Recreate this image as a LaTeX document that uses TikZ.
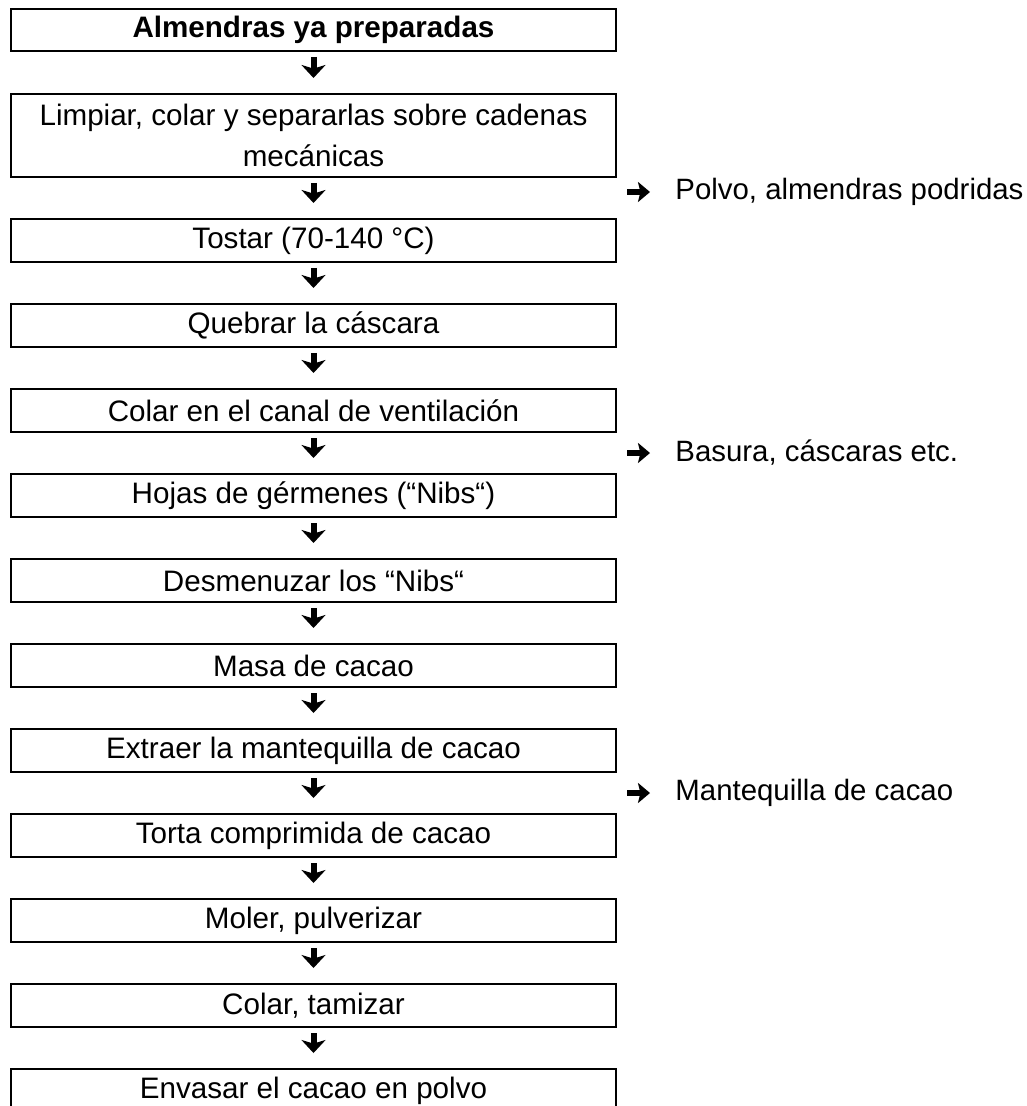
\documentclass[tikz,border=0pt]{standalone}
\usepackage{fontspec}
\setmainfont{Liberation Sans}
\usetikzlibrary{positioning,arrows.meta}
\tikzset{
  paso/.style={draw, line width=0.85pt, minimum width=302.5pt, minimum height=21.5pt,
    inner sep=0pt, outer sep=0pt, align=center, font=\fontsize{14.8}{20.5}\selectfont},
  flecha/.style={line width=3pt, -{Stealth[length=6.5pt,width=12pt,inset=1.8pt]},
    shorten <=3pt, shorten >=8pt},
  lateral/.style={anchor=west, inner sep=0pt, font=\fontsize{14.7}{20.5}\selectfont},
  flechita/.style={line width=2.8pt, -{Stealth[length=6pt,width=10pt,inset=1.2pt]}, shorten >=12.5pt}
}
\begin{document}
\begin{tikzpicture}[x=0.5pt,y=-0.5pt,node distance=21pt]     % cacao process
  \useasboundingbox (0,0) rectangle (1026,1106);
  \node[paso, minimum height=21pt] (b1) at (313.5,30) {\textbf{Almendras ya preparadas}};
  \node[paso, below=21.5pt of b1, minimum height=41.5pt] (b2) {Limpiar, colar y separarlas sobre cadenas\\mecánicas};
  \node[paso, below=of b2] (b3) {Tostar (70-140 °C)};
  \node[paso, below=of b3] (b4) {Quebrar la cáscara};
  \node[paso, below=of b4] (b5) {Colar en el canal de ventilación};
  \node[paso, below=of b5] (b6) {Hojas de gérmenes (“Nibs“)};
  \node[paso, below=of b6] (b7) {Desmenuzar los “Nibs“};
  \node[paso, below=of b7] (b8) {Masa de cacao};
  \node[paso, below=of b8] (b9) {Extraer la mantequilla de cacao};
  \node[paso, below=of b9] (b10) {Torta comprimida de cacao};
  \node[paso, below=of b10] (b11) {Moler, pulverizar};
  \node[paso, below=of b11] (b12) {Colar, tamizar};
  \node[paso, below=of b12] (b13) {Envasar el cacao en polvo};
  \foreach \a/\b in {b1/b2,b2/b3,b3/b4,b4/b5,b5/b6,b6/b7,b7/b8,b8/b9,b9/b10,b10/b11,b11/b12,b12/b13}
    \draw[flecha] (\a) -- (\b);
%  residues on the right
  \coordinate (pa) at (627,192);
  \node[lateral] (polvo) at (675,192) {Polvo, almendras podridas};
  \coordinate (pb) at (627,453);
  \node[lateral] (basura) at (675,453) {Basura, cáscaras etc.};
  \coordinate (pc) at (627,793);
  \node[lateral] (mantequilla) at (675,793) {Mantequilla de cacao};
  \draw[flechita] (pa) -- (polvo.west);
  \draw[flechita] (pb) -- (basura.west);
  \draw[flechita] (pc) -- (mantequilla.west);
\end{tikzpicture}
\end{document}
